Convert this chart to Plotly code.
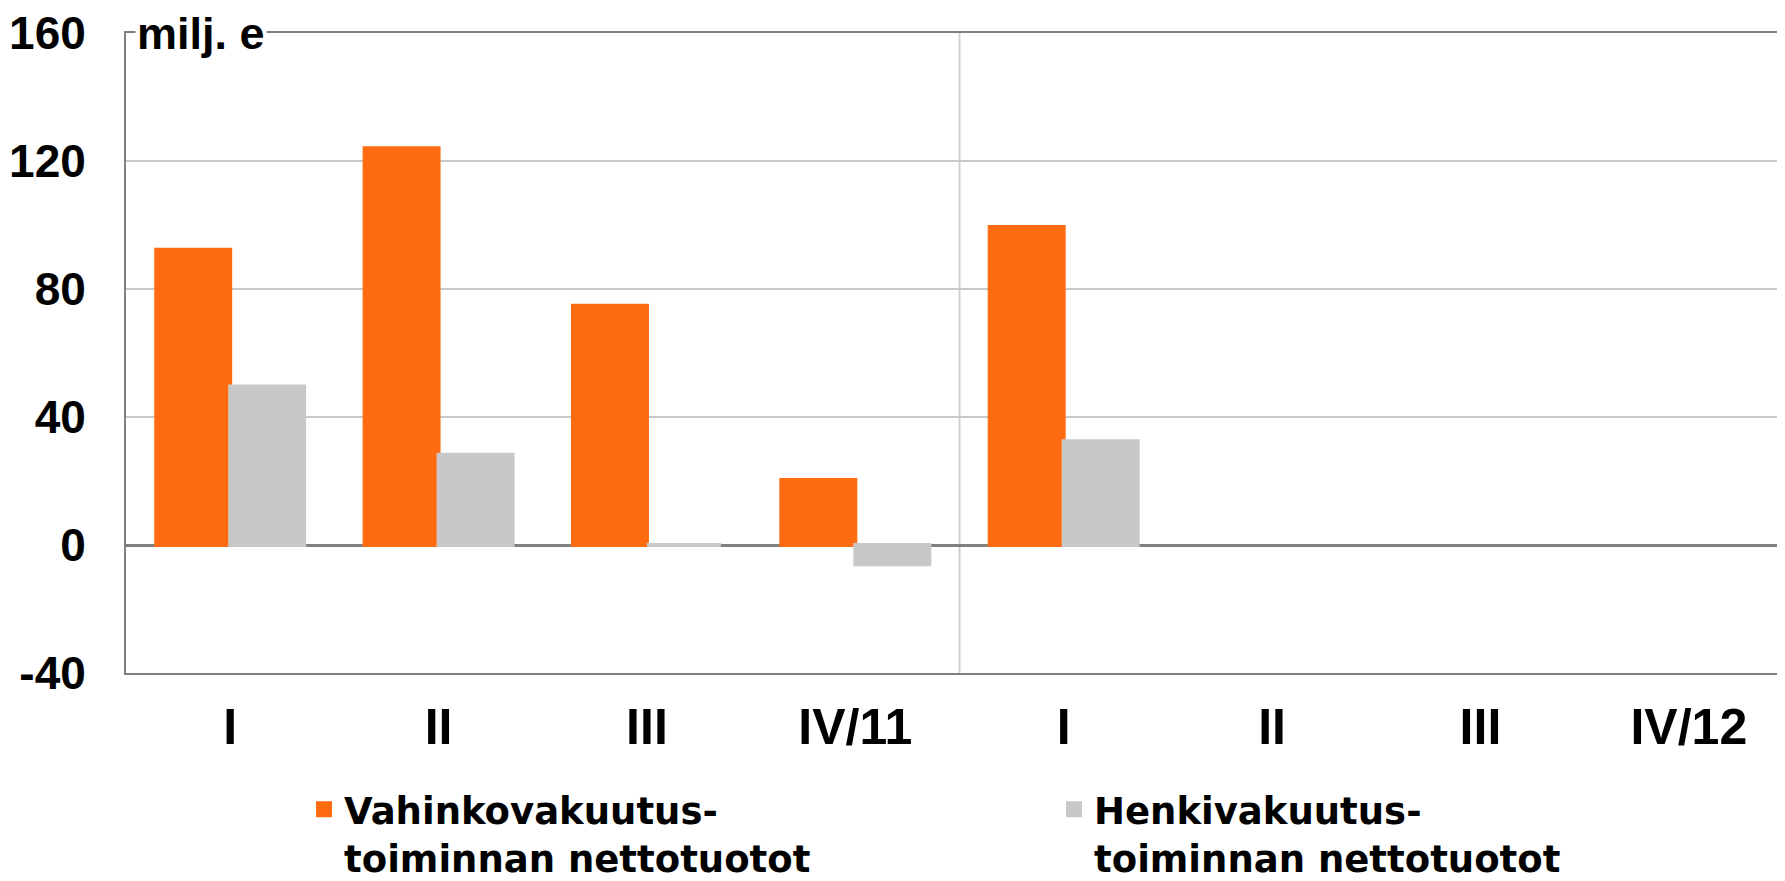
import plotly.graph_objects as go

categories = ["I", "II", "III", "IV/11", "I ", "II ", "III ", "IV/12"]
vahinko = [92.3, 124.0, 74.8, 20.3, 99.4, None, None, None]
henki = [49.5, 28.2, 0.0, -6.0, 32.4, None, None, None]
y_ticks = [-40, 0, 40, 80, 120, 160]

ORANGE = "#FF6B11"
GRAY = "#C8C8C8"
FONT = "Liberation Sans"
LEG_FONT = "DejaVu Sans"

fig = go.Figure()
fig.add_trace(go.Bar(x=categories, y=vahinko, name="<b>Vahinkovakuutus-<br>toiminnan nettotuotot</b>",
                     marker=dict(color=ORANGE, line=dict(width=4, color=ORANGE)), legend="legend"))
fig.add_trace(go.Bar(x=categories, y=henki, name="<b>Henkivakuutus-<br>toiminnan nettotuotot</b>",
                     marker=dict(color=GRAY, line=dict(width=4, color=GRAY)), legend="legend2"))

fig.add_shape(type="line", xref="x", yref="paper", x0=3.5, x1=3.5, y0=0, y1=1,
              line=dict(color="#D0D0D0", width=2), layer="below")

fig.add_annotation(text="<b>milj. e</b>", xref="paper", yref="paper", x=0, y=1,
                   xanchor="left", yanchor="middle", xshift=9, showarrow=False,
                   bgcolor="white", font=dict(family=FONT, size=45, color="black"))

legend_common = dict(orientation="h", y=-0.165, yanchor="top", valign="top",
                     font=dict(family=LEG_FONT, size=37, color="black"), bgcolor="rgba(0,0,0,0)")

fig.update_layout(
    width=1785, height=881,
    margin=dict(l=118, r=0, t=25, b=216, autoexpand=False),
    paper_bgcolor="white", plot_bgcolor="white",
    barmode="group", bargap=0.29, bargroupgap=0,
    font=dict(family=FONT, size=40, color="black"),
    showlegend=True,
    legend=dict(x=0.1068, xanchor="left", **legend_common),
    legend2=dict(x=0.5567, xanchor="left", **legend_common),
)
fig.update_xaxes(type="category", showgrid=False, showline=True, linecolor="#808080", linewidth=2,
                 mirror=True, ticks="", ticklabelstandoff=9,
                 tickfont=dict(family=FONT, size=50, color="black"),
                 ticktext=["<b>%s</b>" % c.strip() for c in categories], tickvals=categories)
fig.update_yaxes(range=[-40, 160], tickvals=y_ticks, ticktext=["<b>%d</b>" % v for v in y_ticks],
                 showgrid=True, gridcolor="#C8C8C8", gridwidth=2,
                 zeroline=True, zerolinecolor="#808080", zerolinewidth=3,
                 showline=True, linecolor="#808080", linewidth=2, ticks="",
                 ticklabelstandoff=29, ticklabeloverflow="allow",
                 tickfont=dict(family=FONT, size=46, color="black"))

fig.write_html("out.html")
